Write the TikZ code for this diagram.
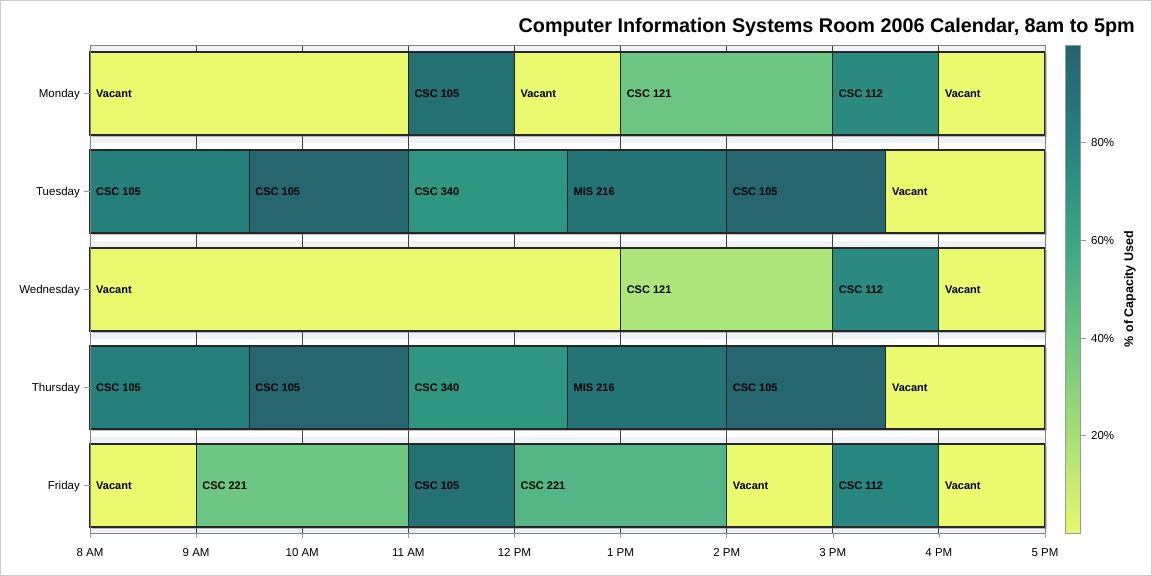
\documentclass[tikz,border=0pt]{standalone}
\usepackage{fontspec}
\setmainfont{Liberation Sans}
\usetikzlibrary{shadows}

\definecolor{vac}{HTML}{EBF96E}
\definecolor{cfiveA}{HTML}{237173}
\definecolor{cfiveB}{HTML}{257F7B}
\definecolor{cfiveC}{HTML}{25666F}
\definecolor{cthreefour}{HTML}{2F9681}
\definecolor{mis}{HTML}{257475}
\definecolor{coneA}{HTML}{6CC580}
\definecolor{coneB}{HTML}{ACE57A}
\definecolor{ctwelveA}{HTML}{2A8A80}
\definecolor{ctwelveB}{HTML}{27867F}
\definecolor{ctwoA}{HTML}{6EC683}
\definecolor{ctwoB}{HTML}{54B686}
\definecolor{bandgray}{HTML}{EEF1F5}
\definecolor{capbot}{HTML}{E8F86B}
\definecolor{captwenty}{HTML}{A6DF77}
\definecolor{capforty}{HTML}{6CC47F}
\definecolor{capsixty}{HTML}{3CA586}
\definecolor{capeighty}{HTML}{26827E}
\definecolor{captop}{HTML}{24636F}

\pgfdeclareverticalshading{capshade}{100bp}{color(0bp)=(capbot); color(25bp)=(capbot);
  color(35bp)=(captwenty); color(45bp)=(capforty); color(55bp)=(capsixty);
  color(65bp)=(capeighty); color(75bp)=(captop); color(100bp)=(captop)}

\tikzset{
  slot/.style={draw=black!85, line width=1.1pt,
    drop shadow={shadow xshift=1.8pt, shadow yshift=-1.8pt, opacity=.5}},
  slotlabel/.style={anchor=base west, inner sep=0pt, font=\bfseries\fontsize{11}{12}\selectfont},
  axislabel/.style={inner sep=0pt, font=\fontsize{11.5}{13}\selectfont},
}

\begin{document}
\begin{tikzpicture}[x=1pt, y=-1pt]
  \useasboundingbox (0,0) rectangle (1152,576);
  \draw[black!20] (0.5,0.5) rectangle (1151.5,575.5);

  \node[anchor=base east, inner sep=0pt, font=\bfseries\fontsize{19.8}{22}\selectfont] (title)
    at (1135,32) {Computer Information Systems Room 2006 Calendar, 8am to 5pm};

  \begin{scope}[shift={(90pt,0pt)}, x=106.111pt]
    \foreach \r in {0,2,4}
      \fill[bandgray] (0,{44.5+98*\r}) rectangle (9,{min(142.5+98*\r,533)});
    \foreach \h in {1,...,8}
      \draw[black!75, line width=.8pt] (\h,45) -- (\h,533);

    \foreach \r/\s/\e/\c/\t [count=\i] in {
      0/0/3/vac/Vacant, 0/3/4/cfiveA/CSC 105, 0/4/5/vac/Vacant, 0/5/7/coneA/CSC 121,
      0/7/8/ctwelveA/CSC 112, 0/8/9/vac/Vacant,
      1/0/1.5/cfiveB/CSC 105, 1/1.5/3/cfiveC/CSC 105, 1/3/4.5/cthreefour/CSC 340,
      1/4.5/6/mis/MIS 216, 1/6/7.5/cfiveC/CSC 105, 1/7.5/9/vac/Vacant,
      2/0/5/vac/Vacant, 2/5/7/coneB/CSC 121, 2/7/8/ctwelveA/CSC 112, 2/8/9/vac/Vacant,
      3/0/1.5/cfiveB/CSC 105, 3/1.5/3/cfiveC/CSC 105, 3/3/4.5/cthreefour/CSC 340,
      3/4.5/6/mis/MIS 216, 3/6/7.5/cfiveC/CSC 105, 3/7.5/9/vac/Vacant,
      4/0/1/vac/Vacant, 4/1/3/ctwoA/CSC 221, 4/3/4/cfiveA/CSC 105, 4/4/6/ctwoB/CSC 221,
      4/6/7/vac/Vacant, 4/7/8/ctwelveB/CSC 112, 4/8/9/vac/Vacant}{
      \draw[slot, fill=\c] (\s,{52+98*\r}) rectangle (\e,{135+98*\r});
      \node[slotlabel] (slot\i) at ([xshift=6pt]\s,{97+98*\r}) {\t};
    }

    \draw[black!50, line width=1pt] (0,45) rectangle (9,533);
    \foreach \t [count=\h from 0] in {8 AM,9 AM,10 AM,11 AM,12 PM,1 PM,2 PM,3 PM,4 PM,5 PM}{
      \draw[black!40] (\h,533) -- (\h,538);
      \node[axislabel, anchor=base] (hour\h) at (\h,556) {\t};
    }
  \end{scope}

  \foreach \d [count=\r from 0] in {Monday,Tuesday,Wednesday,Thursday,Friday}{
    \draw[black!40] (84,{93.5+98*\r}) -- (90,{93.5+98*\r});
    \node[axislabel, anchor=base east] (day\r) at (80,{97.7+98*\r}) {\d};
  }

  % colour legend
  \shade[shading=capshade] (1065,45) rectangle (1080,533);
  \draw[black!40] (1065,45) rectangle (1080,533);
  \foreach \p in {20,40,60,80}{
    \draw[black!40] (1080,{533-4.88*\p}) -- (1086,{533-4.88*\p});
    \node[axislabel, anchor=base west] (leg\p) at (1091,{537.2-4.88*\p}) {\p\%};
  }
  \node[rotate=90, anchor=base, inner sep=0pt, font=\bfseries\fontsize{12.5}{14}\selectfont] (legtitle)
    at (1133,289) {\% of Capacity Used};
\end{tikzpicture}
\end{document}
